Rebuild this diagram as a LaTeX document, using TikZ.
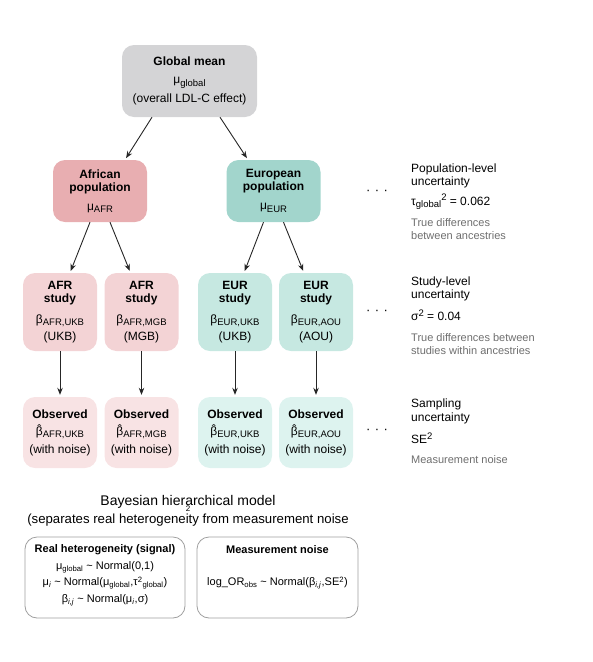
\documentclass[tikz,border=0pt]{standalone}
\usepackage{fontspec}
\setmainfont{Liberation Sans}
\usetikzlibrary{arrows.meta}

\definecolor{globgray}{HTML}{D4D4D6}
\definecolor{afrpop}{HTML}{E8AEB1}
\definecolor{eurpop}{HTML}{A2D5CC}
\definecolor{afrstudy}{HTML}{F3D3D5}
\definecolor{eurstudy}{HTML}{C6E8E1}
\definecolor{afrobs}{HTML}{F8E3E4}
\definecolor{eurobs}{HTML}{DDF3EF}
\definecolor{notegray}{HTML}{6E6E6E}

\newcommand{\bhat}{\accent"02C6 β}
\newcommand{\sub}[1]{\raisebox{-2.5pt}{\fontsize{9.5}{9.5}\selectfont #1}}
\newcommand{\supx}[1]{\raisebox{4.5pt}{\fontsize{9.5}{9.5}\selectfont #1}}

\begin{document}
\begin{tikzpicture}[
	x=1pt, y=-1pt,
	box/.style={rounded corners=12pt, inner sep=0pt, align=center,
		font=\fontsize{12}{13}\selectfont},
	studybox/.style={box, minimum width=74pt, minimum height=78pt},
	obsbox/.style={box, minimum width=74pt, minimum height=71pt},
	arr/.style={-{Stealth[length=7pt, width=5.5pt]}, line width=0.9pt, draw=black!85, shorten >=2pt},
	info/.style={anchor=west, align=left, inner sep=0pt, font=\fontsize{12}{13.5}\selectfont},
	note/.style={anchor=west, align=left, inner sep=0pt, text=notegray, font=\fontsize{11}{13}\selectfont},
	eqbox/.style={draw=gray!75, line width=0.8pt, rounded corners=12pt, minimum width=160pt, minimum height=81pt},
	eq/.style={inner sep=0pt, font=\fontsize{11}{13}\selectfont}
]
\useasboundingbox (0,0) rectangle (593,662);

% hierarchy
\node[box, fill=globgray, minimum width=135pt, minimum height=72pt] (glob) at (189.5,81)
	{\textbf{Global mean}\\[5pt]μ\sub{global}\\[5pt](overall LDL-C effect)};

\node[box, fill=afrpop, minimum width=94pt, minimum height=62pt] (afr) at (100,191)
	{\textbf{African}\\\textbf{population}\\[6pt]μ\sub{AFR}};
\node[box, fill=eurpop, minimum width=94pt, minimum height=62pt] (eur) at (273.5,191)
	{\textbf{European}\\\textbf{population}\\[6pt]μ\sub{EUR}};

\node[studybox, fill=afrstudy] (afrukb) at (60,312)
	{\textbf{AFR}\\\textbf{study}\\[8pt]β\sub{AFR,UKB}\\[4pt](UKB)};
\node[studybox, fill=afrstudy] (afrmgb) at (141.5,312)
	{\textbf{AFR}\\\textbf{study}\\[8pt]β\sub{AFR,MGB}\\[4pt](MGB)};
\node[studybox, fill=eurstudy] (eurukb) at (235,312)
	{\textbf{EUR}\\\textbf{study}\\[8pt]β\sub{EUR,UKB}\\[4pt](UKB)};
\node[studybox, fill=eurstudy] (euraou) at (316,312)
	{\textbf{EUR}\\\textbf{study}\\[8pt]β\sub{EUR,AOU}\\[4pt](AOU)};

\node[obsbox, fill=afrobs] (obsafrukb) at (60,432.5)
	{\textbf{Observed}\\[4pt]\bhat\sub{AFR,UKB}\\[5pt](with noise)};
\node[obsbox, fill=afrobs] (obsafrmgb) at (141.5,432.5)
	{\textbf{Observed}\\[4pt]\bhat\sub{AFR,MGB}\\[5pt](with noise)};
\node[obsbox, fill=eurobs] (obseurukb) at (235,432.5)
	{\textbf{Observed}\\[4pt]\bhat\sub{EUR,UKB}\\[5pt](with noise)};
\node[obsbox, fill=eurobs] (obseuraou) at (316,432.5)
	{\textbf{Observed}\\[4pt]\bhat\sub{EUR,AOU}\\[5pt](with noise)};

\draw[arr] ([xshift=-37.5pt]glob.south) -- ([xshift=25pt]afr.north);
\draw[arr] ([xshift=30.5pt]glob.south) -- ([xshift=-25.5pt]eur.north);
\draw[arr] ([xshift=-10pt]afr.south) -- ([xshift=10pt]afrukb.north);
\draw[arr] ([xshift=10pt]afr.south) -- ([xshift=-11pt]afrmgb.north);
\draw[arr] ([xshift=-10pt]eur.south) -- ([xshift=9pt]eurukb.north);
\draw[arr] ([xshift=10pt]eur.south) -- ([xshift=-12pt]euraou.north);
\draw[arr] (afrukb) -- (obsafrukb);
\draw[arr] (afrmgb) -- (obsafrmgb);
\draw[arr] (eurukb) -- (obseurukb);
\draw[arr] (euraou) -- (obseuraou);

% uncertainty levels
\node[font=\fontsize{13}{13}\selectfont] (dotspop) at (377,192) {·\hspace{4.5pt}·\hspace{4.5pt}·};
\node[font=\fontsize{13}{13}\selectfont] (dotsstudy) at (377,312) {·\hspace{4.5pt}·\hspace{4.5pt}·};
\node[font=\fontsize{13}{13}\selectfont] (dotsobs) at (377,431) {·\hspace{4.5pt}·\hspace{4.5pt}·};

\node[info] (poph) at (411,176) {Population-level\\uncertainty};
\node[info] (popv) at (411,202) {τ\sub{global}\supx{2} = 0.062};
\node[note] (popn) at (411,229) {True differences\\between ancestries};

\node[info] (studyh) at (411,289) {Study-level\\uncertainty};
\node[info] (studyv) at (411,315) {σ\supx{2} = 0.04};
\node[note] (studyn) at (411,344) {True differences between\\studies within ancestries};

\node[info] (samph) at (411,411.5) {Sampling\\uncertainty};
\node[info] (sampv) at (411,438) {SE\supx{2}};
\node[note] (sampn) at (411,460) {Measurement noise};

% model
\node[font=\fontsize{14}{16}\selectfont] (title) at (188,502) {Bayesian hierarchical model};
\node[font=\fontsize{13.2}{16}\selectfont] (subtitle) at (188,520) {(separates real heterogeneity from measurement noise};
\node[font=\fontsize{8}{8}\selectfont, inner sep=0pt] (stray) at (188,509) {2};

\node[eqbox] (signal) at (105,577.5) {};
\node[eqbox, minimum width=161pt] (noise) at (277.5,577.5) {};

\node[eq] (signalh) at (105,550) {\textbf{Real heterogeneity (signal)}};
\node[eq] (signala) at (105,567) {μ\textsubscript{global} \textasciitilde\ Normal(0,1)};
\node[eq] (signalb) at (105,583) {μ\textsubscript{\textit{i}} \textasciitilde\ Normal(μ\textsubscript{global},τ\textsuperscript{2}\textsubscript{global})};
\node[eq] (signalc) at (105,600) {β\textsubscript{\textit{i,j}} \textasciitilde\ Normal(μ\textsubscript{\textit{i}},σ)};

\node[eq] (noiseh) at (277.5,550) {\textbf{Measurement noise}};
\node[eq] (noisea) at (277.5,583) {log\_OR\textsubscript{obs} \textasciitilde\ Normal(β\textsubscript{\textit{i,j}},SE\textsuperscript{2})};
\end{tikzpicture}
\end{document}
